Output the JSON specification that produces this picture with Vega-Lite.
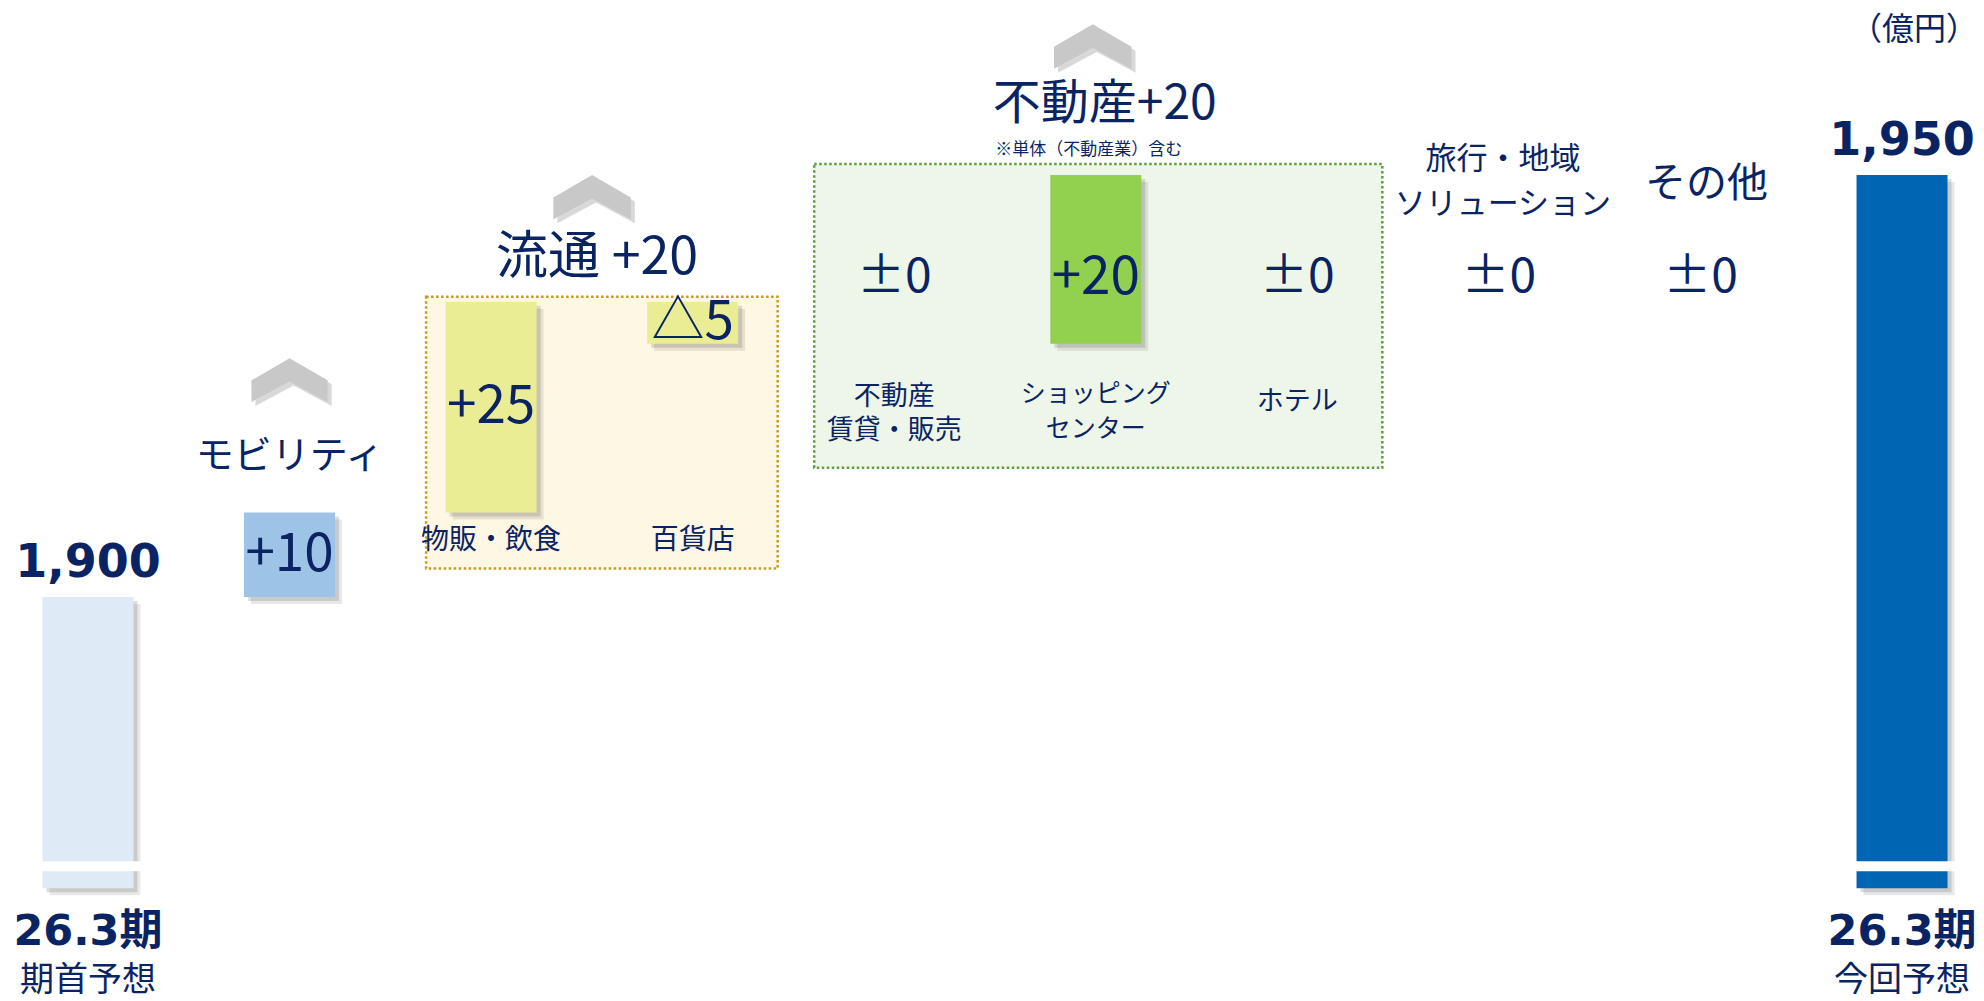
{
  "$schema": "https://vega.github.io/schema/vega-lite/v6.json",
  "width": 1984,
  "height": 1001,
  "autosize": "none",
  "padding": 0,
  "background": "white",
  "config": {"view": {"stroke": null}, "text": {"font": "Noto Sans CJK JP", "color": "#0A2463"}},
  "datasets": {
    "steps": [
      {"cat": "期首予想", "group": "期首", "kind": "total", "lo": 1865.5, "hi": 1900, "gStart": 1865.5, "gEnd": 1900, "val": "1,900", "name": "期首予想", "period": "26.3期"},
      {"cat": "モビリティ", "group": "モビリティ", "kind": "up", "lo": 1900, "hi": 1910, "gStart": 1900, "gEnd": 1910, "val": "+10", "name": "モビリティ"},
      {"cat": "物販・飲食", "group": "流通", "kind": "up", "lo": 1910, "hi": 1935, "gStart": 1910, "gEnd": 1930, "val": "+25", "name": "物販・飲食"},
      {"cat": "百貨店", "group": "流通", "kind": "down", "lo": 1930, "hi": 1935, "gStart": 1910, "gEnd": 1930, "val": "△5", "name": "百貨店"},
      {"cat": "不動産賃貸・販売", "group": "不動産", "kind": "flat", "lo": 1930, "hi": 1930, "gStart": 1930, "gEnd": 1950, "val": "±0", "name": "不動産\n賃貸・販売"},
      {"cat": "ショッピングセンター", "group": "不動産", "kind": "up", "lo": 1930, "hi": 1950, "gStart": 1930, "gEnd": 1950, "val": "+20", "name": "ショッピング\nセンター"},
      {"cat": "ホテル", "group": "不動産", "kind": "flat", "lo": 1950, "hi": 1950, "gStart": 1930, "gEnd": 1950, "val": "±0", "name": "ホテル"},
      {"cat": "旅行・地域ソリューション", "group": "旅行", "kind": "flat", "lo": 1950, "hi": 1950, "gStart": 1950, "gEnd": 1950, "val": "±0", "name": "旅行・地域\nソリューション"},
      {"cat": "その他", "group": "その他", "kind": "flat", "lo": 1950, "hi": 1950, "gStart": 1950, "gEnd": 1950, "val": "±0", "name": "その他"},
      {"cat": "今回予想", "group": "今回", "kind": "total", "lo": 1865.5, "hi": 1950, "gStart": 1865.5, "gEnd": 1950, "val": "1,950", "name": "今回予想", "period": "26.3期"}
    ],
    "groups": [
      {"group": "モビリティ", "first": "モビリティ", "last": "モビリティ", "anchor": "モビリティ", "start": 1900, "peak": 1910, "end": 1910, "label": "モビリティ"},
      {"group": "流通", "first": "物販・飲食", "last": "百貨店", "anchor": "物販・飲食", "start": 1910, "peak": 1935, "end": 1930, "label": "流通 +20"},
      {"group": "不動産", "first": "不動産賃貸・販売", "last": "ホテル", "anchor": "ショッピングセンター", "start": 1930, "peak": 1950, "end": 1950, "label": "不動産+20", "note": "※単体（不動産業）含む"}
    ]
  },
  "layer": [
    {
      "data": {"name": "groups"},
      "transform": [{"filter": {"field": "group", "equal": "流通"}}],
      "mark": {"type": "rect", "fill": "#FEF7E4", "stroke": "#C99A1E", "strokeWidth": 2.5, "strokeDash": [2.5, 2.5], "xOffset": -65, "x2Offset": 85, "yOffset": -5, "y2Offset": 56},
      "encoding": {
        "x": {"field": "first", "type": "nominal", "axis": null, "scale": {"domain": ["期首予想", "モビリティ", "物販・飲食", "百貨店", "不動産賃貸・販売", "ショッピングセンター", "ホテル", "旅行・地域ソリューション", "その他", "今回予想"], "paddingInner": 0.5485, "paddingOuter": 0.1958, "align": 0.538}},
        "x2": {"field": "last"},
        "y": {"field": "peak", "type": "quantitative", "axis": null, "scale": {"domain": [1852.13, 1970.74], "nice": false, "zero": false}},
        "y2": {"field": "start"}
      }
    },
    {
      "data": {"name": "groups"},
      "transform": [{"filter": {"field": "group", "equal": "不動産"}}],
      "mark": {"type": "rect", "fill": "#EEF6EA", "stroke": "#5E9E3C", "strokeWidth": 2.5, "strokeDash": [2.5, 2.5], "xOffset": -80, "x2Offset": 85, "yOffset": -11, "y2Offset": 124},
      "encoding": {
        "x": {"field": "first", "type": "nominal", "axis": null},
        "x2": {"field": "last"},
        "y": {"field": "peak", "type": "quantitative", "axis": null},
        "y2": {"field": "start"}
      }
    },
    {
      "data": {"name": "steps"},
      "transform": [{"filter": "datum.kind !== 'flat'"}],
      "mark": {"type": "bar", "color": "#000000", "opacity": 0.09, "xOffset": 7, "x2Offset": 7, "yOffset": 7, "y2Offset": 7},
      "encoding": {
        "x": {"field": "cat", "type": "nominal", "axis": null},
        "y": {"field": "hi", "type": "quantitative", "axis": null},
        "y2": {"field": "lo"}
      }
    },
    {
      "data": {"name": "steps"},
      "transform": [{"filter": "datum.kind !== 'flat'"}],
      "mark": {"type": "bar", "color": "#000000", "opacity": 0.13, "xOffset": 4, "x2Offset": 4, "yOffset": 4, "y2Offset": 4},
      "encoding": {
        "x": {"field": "cat", "type": "nominal", "axis": null},
        "y": {"field": "hi", "type": "quantitative", "axis": null},
        "y2": {"field": "lo"}
      }
    },
    {
      "data": {"name": "steps"},
      "transform": [{"filter": "datum.kind !== 'flat'"}],
      "mark": {"type": "bar", "opacity": 1},
      "encoding": {
        "x": {"field": "cat", "type": "nominal", "axis": null},
        "y": {"field": "hi", "type": "quantitative", "axis": null},
        "y2": {"field": "lo"},
        "color": {"field": "cat", "type": "nominal", "legend": null, "scale": {"domain": ["期首予想", "モビリティ", "物販・飲食", "百貨店", "ショッピングセンター", "今回予想"], "range": ["#DEEAF6", "#9DC3E6", "#EBED94", "#EBED94", "#92D050", "#0066B3"]}}
      }
    },
    {
      "data": {"name": "steps"},
      "transform": [{"filter": {"field": "kind", "equal": "total"}}],
      "mark": {"type": "tick", "orient": "horizontal", "color": "white", "opacity": 1, "thickness": 10, "size": 110, "xOffset": 6, "yOffset": -22},
      "encoding": {
        "x": {"field": "cat", "type": "nominal", "axis": null},
        "y": {"field": "lo", "type": "quantitative", "axis": null}
      }
    },
    {
      "data": {"name": "groups"},
      "transform": [{"filter": {"field": "group", "equal": "モビリティ"}}],
      "mark": {"type": "point", "shape": "M0,-0.56L1,0.02L1,0.585L0,0.05L-1,0.585L-1,0.02Z", "filled": true, "color": "#000000", "opacity": 0.15, "size": 5800, "xOffset": 4, "yOffset": -129},
      "encoding": {
        "x": {"field": "anchor", "type": "nominal", "axis": null},
        "y": {"field": "peak", "type": "quantitative", "axis": null}
      }
    },
    {
      "data": {"name": "groups"},
      "transform": [{"filter": {"field": "group", "equal": "モビリティ"}}],
      "mark": {"type": "point", "shape": "M0,-0.56L1,0.02L1,0.585L0,0.05L-1,0.585L-1,0.02Z", "filled": true, "color": "#C8C8C8", "opacity": 1, "size": 5800, "yOffset": -133},
      "encoding": {
        "x": {"field": "anchor", "type": "nominal", "axis": null},
        "y": {"field": "peak", "type": "quantitative", "axis": null}
      }
    },
    {
      "data": {"name": "groups"},
      "transform": [{"filter": {"field": "group", "equal": "流通"}}],
      "mark": {"type": "point", "shape": "M0,-0.56L1,0.02L1,0.585L0,0.05L-1,0.585L-1,0.02Z", "filled": true, "color": "#000000", "opacity": 0.15, "size": 6000, "xOffset": 105, "yOffset": -101},
      "encoding": {
        "x": {"field": "anchor", "type": "nominal", "axis": null},
        "y": {"field": "peak", "type": "quantitative", "axis": null}
      }
    },
    {
      "data": {"name": "groups"},
      "transform": [{"filter": {"field": "group", "equal": "流通"}}],
      "mark": {"type": "point", "shape": "M0,-0.56L1,0.02L1,0.585L0,0.05L-1,0.585L-1,0.02Z", "filled": true, "color": "#C8C8C8", "opacity": 1, "size": 6000, "xOffset": 101, "yOffset": -105},
      "encoding": {
        "x": {"field": "anchor", "type": "nominal", "axis": null},
        "y": {"field": "peak", "type": "quantitative", "axis": null}
      }
    },
    {
      "data": {"name": "groups"},
      "transform": [{"filter": {"field": "group", "equal": "不動産"}}],
      "mark": {"type": "point", "shape": "M0,-0.56L1,0.02L1,0.585L0,0.05L-1,0.585L-1,0.02Z", "filled": true, "color": "#000000", "opacity": 0.15, "size": 6000, "xOffset": 1, "yOffset": -125},
      "encoding": {
        "x": {"field": "anchor", "type": "nominal", "axis": null},
        "y": {"field": "peak", "type": "quantitative", "axis": null}
      }
    },
    {
      "data": {"name": "groups"},
      "transform": [{"filter": {"field": "group", "equal": "不動産"}}],
      "mark": {"type": "point", "shape": "M0,-0.56L1,0.02L1,0.585L0,0.05L-1,0.585L-1,0.02Z", "filled": true, "color": "#C8C8C8", "opacity": 1, "size": 6000, "xOffset": -3, "yOffset": -129},
      "encoding": {
        "x": {"field": "anchor", "type": "nominal", "axis": null},
        "y": {"field": "peak", "type": "quantitative", "axis": null}
      }
    },
    {
      "data": {"name": "groups"},
      "transform": [{"filter": {"field": "group", "equal": "モビリティ"}}],
      "mark": {"type": "text", "fontSize": 38, "baseline": "middle", "dy": -56},
      "encoding": {
        "x": {"field": "anchor", "type": "nominal", "axis": null},
        "y": {"field": "peak", "type": "quantitative", "axis": null},
        "text": {"field": "label"}
      }
    },
    {
      "data": {"name": "groups"},
      "transform": [{"filter": {"field": "group", "equal": "流通"}}],
      "mark": {"type": "text", "fontSize": 52, "baseline": "middle", "dx": 106, "dy": -44},
      "encoding": {
        "x": {"field": "anchor", "type": "nominal", "axis": null},
        "y": {"field": "peak", "type": "quantitative", "axis": null},
        "text": {"field": "label"}
      }
    },
    {
      "data": {"name": "groups"},
      "transform": [{"filter": {"field": "group", "equal": "不動産"}}],
      "mark": {"type": "text", "fontSize": 48, "baseline": "middle", "dx": 9, "dy": -70},
      "encoding": {
        "x": {"field": "anchor", "type": "nominal", "axis": null},
        "y": {"field": "peak", "type": "quantitative", "axis": null},
        "text": {"field": "label"}
      }
    },
    {
      "data": {"name": "groups"},
      "transform": [{"filter": {"field": "group", "equal": "不動産"}}],
      "mark": {"type": "text", "fontSize": 17, "baseline": "middle", "dx": -7, "dy": -25},
      "encoding": {
        "x": {"field": "anchor", "type": "nominal", "axis": null},
        "y": {"field": "peak", "type": "quantitative", "axis": null},
        "text": {"field": "note"}
      }
    },
    {
      "data": {"name": "steps"},
      "transform": [{"filter": {"field": "kind", "equal": "total"}}],
      "mark": {"type": "text", "font": "DejaVu Sans", "fontWeight": "bold", "fontSize": 46, "baseline": "alphabetic", "dy": -20},
      "encoding": {
        "x": {"field": "cat", "type": "nominal", "axis": null},
        "y": {"field": "hi", "type": "quantitative", "axis": null},
        "text": {"field": "val"}
      }
    },
    {
      "data": {"name": "steps"},
      "transform": [{"filter": {"field": "kind", "equal": "total"}}],
      "mark": {"type": "text", "font": "DejaVu Sans, Noto Sans CJK JP", "fontWeight": "bold", "fontSize": 43, "baseline": "middle", "dy": 44},
      "encoding": {
        "x": {"field": "cat", "type": "nominal", "axis": null},
        "y": {"field": "lo", "type": "quantitative", "axis": null},
        "text": {"field": "period"}
      }
    },
    {
      "data": {"name": "steps"},
      "transform": [{"filter": {"field": "kind", "equal": "total"}}],
      "mark": {"type": "text", "fontSize": 34, "baseline": "middle", "dy": 93},
      "encoding": {
        "x": {"field": "cat", "type": "nominal", "axis": null},
        "y": {"field": "lo", "type": "quantitative", "axis": null},
        "text": {"field": "name"}
      }
    },
    {
      "data": {"name": "steps"},
      "transform": [{"filter": {"field": "cat", "equal": "今回予想"}}],
      "mark": {"type": "text", "text": "（億円）", "fontSize": 32, "baseline": "middle", "dx": 12, "dy": -145},
      "encoding": {
        "x": {"field": "cat", "type": "nominal", "axis": null},
        "y": {"field": "hi", "type": "quantitative", "axis": null}
      }
    },
    {
      "data": {"name": "steps"},
      "transform": [
        {"filter": {"field": "group", "oneOf": ["モビリティ", "流通"]}},
        {"fold": ["lo", "hi"], "as": ["k", "v"]},
        {"aggregate": [{"op": "mean", "field": "v", "as": "mid"}], "groupby": ["cat", "val"]}
      ],
      "mark": {"type": "text", "fontSize": 53, "baseline": "middle"},
      "encoding": {
        "x": {"field": "cat", "type": "nominal", "axis": null},
        "y": {"field": "mid", "type": "quantitative", "axis": null},
        "text": {"field": "val"}
      }
    },
    {
      "data": {"name": "steps"},
      "transform": [{"filter": {"field": "group", "oneOf": ["不動産", "旅行", "その他"]}}, {"filter": {"field": "kind", "equal": "flat"}}],
      "mark": {"type": "text", "fontSize": 48, "baseline": "middle", "dy": 103},
      "encoding": {
        "x": {"field": "cat", "type": "nominal", "axis": null},
        "y": {"field": "gEnd", "type": "quantitative", "axis": null},
        "text": {"field": "val"}
      }
    },
    {
      "data": {"name": "steps"},
      "transform": [{"filter": {"field": "group", "equal": "不動産"}}, {"filter": {"field": "kind", "equal": "up"}}],
      "mark": {"type": "text", "fontSize": 53, "baseline": "middle", "dy": 103},
      "encoding": {
        "x": {"field": "cat", "type": "nominal", "axis": null},
        "y": {"field": "gEnd", "type": "quantitative", "axis": null},
        "text": {"field": "val"}
      }
    },
    {
      "data": {"name": "steps"},
      "transform": [{"filter": {"field": "group", "equal": "流通"}}],
      "mark": {"type": "text", "fontSize": 28, "baseline": "middle", "dy": 28},
      "encoding": {
        "x": {"field": "cat", "type": "nominal", "axis": null},
        "y": {"field": "gStart", "type": "quantitative", "axis": null},
        "text": {"field": "name"}
      }
    },
    {
      "data": {"name": "steps"},
      "transform": [{"filter": {"field": "group", "equal": "不動産"}}, {"filter": {"field": "kind", "equal": "flat"}}, {"filter": {"field": "lo", "equal": 1930}}],
      "mark": {"type": "text", "fontSize": 27, "lineHeight": 34, "lineBreak": "\n", "baseline": "middle", "dy": 53},
      "encoding": {
        "x": {"field": "cat", "type": "nominal", "axis": null},
        "y": {"field": "gStart", "type": "quantitative", "axis": null},
        "text": {"field": "name"}
      }
    },
    {
      "data": {"name": "steps"},
      "transform": [{"filter": {"field": "group", "equal": "不動産"}}, {"filter": {"field": "kind", "equal": "up"}}],
      "mark": {"type": "text", "fontSize": 25, "lineHeight": 35, "lineBreak": "\n", "baseline": "middle", "dy": 50},
      "encoding": {
        "x": {"field": "cat", "type": "nominal", "axis": null},
        "y": {"field": "gStart", "type": "quantitative", "axis": null},
        "text": {"field": "name"}
      }
    },
    {
      "data": {"name": "steps"},
      "transform": [{"filter": {"field": "cat", "equal": "ホテル"}}],
      "mark": {"type": "text", "fontSize": 27, "baseline": "middle", "dy": 58},
      "encoding": {
        "x": {"field": "cat", "type": "nominal", "axis": null},
        "y": {"field": "gStart", "type": "quantitative", "axis": null},
        "text": {"field": "name"}
      }
    },
    {
      "data": {"name": "steps"},
      "transform": [{"filter": {"field": "group", "equal": "旅行"}}],
      "mark": {"type": "text", "fontSize": 31, "lineHeight": 45, "lineBreak": "\n", "baseline": "middle", "dy": -15, "dx": 4},
      "encoding": {
        "x": {"field": "cat", "type": "nominal", "axis": null},
        "y": {"field": "hi", "type": "quantitative", "axis": null},
        "text": {"field": "name"}
      }
    },
    {
      "data": {"name": "steps"},
      "transform": [{"filter": {"field": "group", "equal": "その他"}}],
      "mark": {"type": "text", "fontSize": 41, "baseline": "middle", "dy": 10, "dx": 6},
      "encoding": {
        "x": {"field": "cat", "type": "nominal", "axis": null},
        "y": {"field": "hi", "type": "quantitative", "axis": null},
        "text": {"field": "name"}
      }
    }
  ]
}
